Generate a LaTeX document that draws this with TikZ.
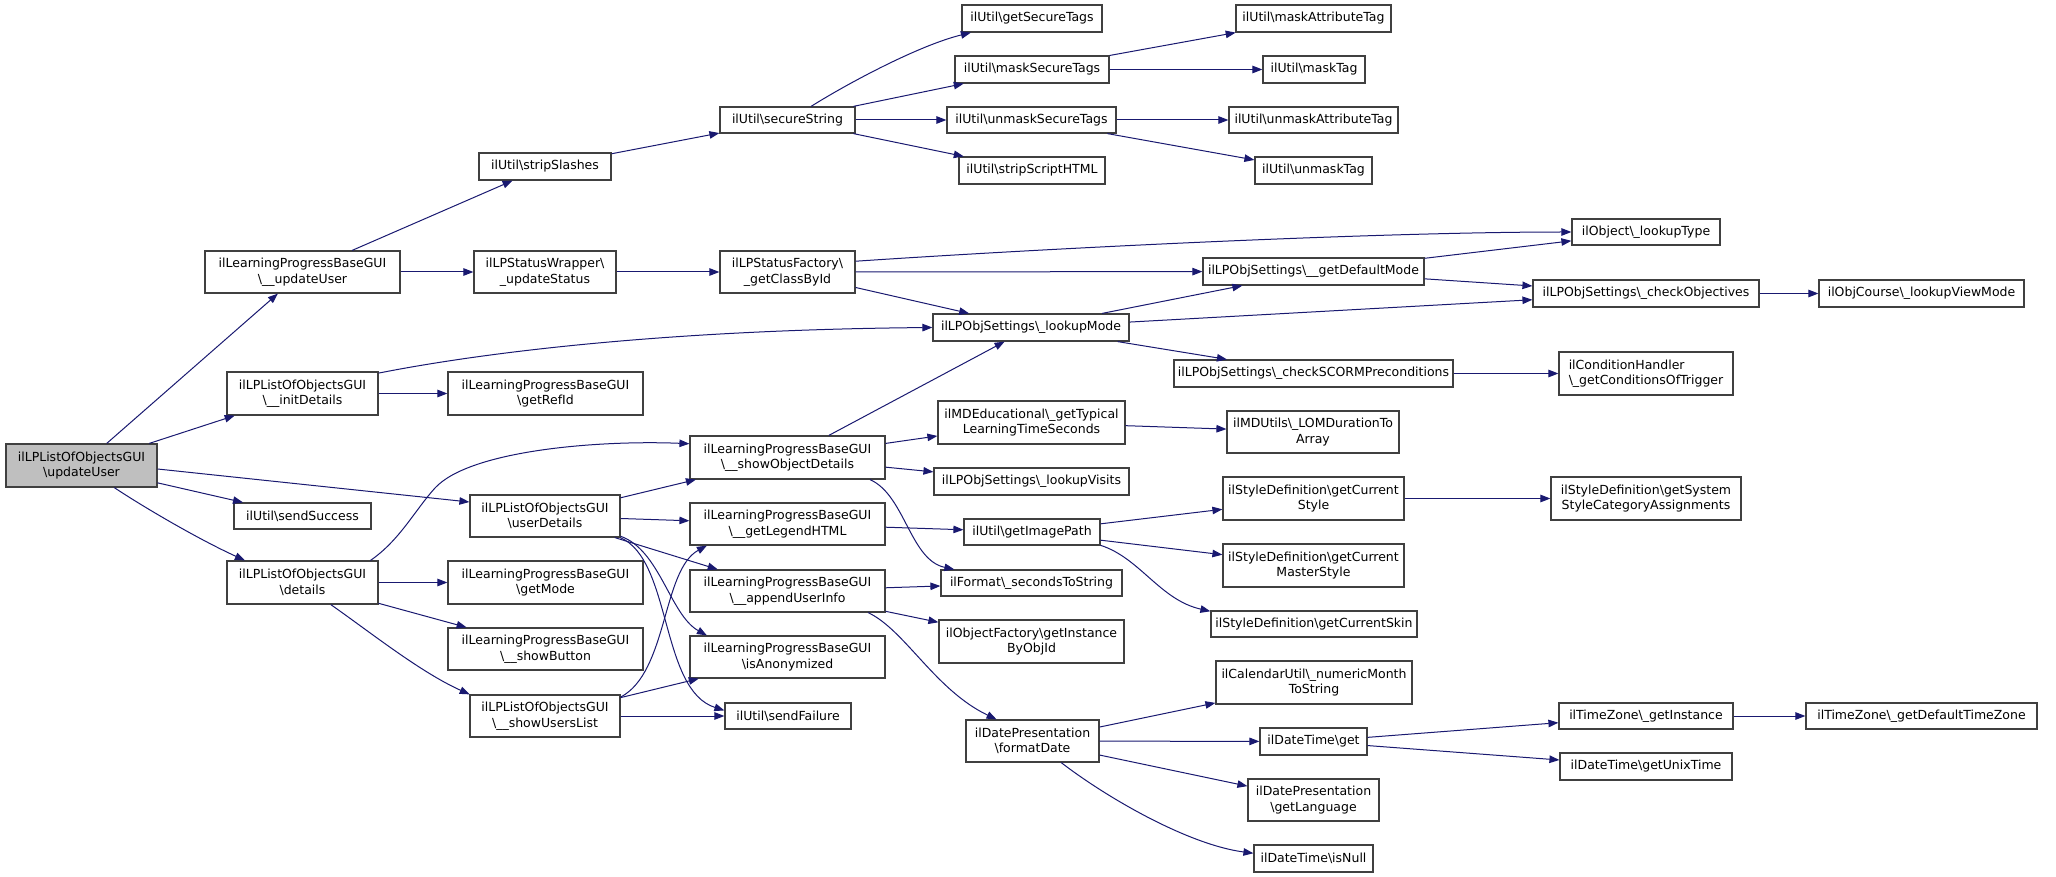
\documentclass[tikz,border=0pt]{standalone}
\usepackage{fontspec}
\setmainfont{DejaVu Sans}
\usetikzlibrary{arrows.meta}
\definecolor{edgec}{HTML}{191970}
\definecolor{boxc}{HTML}{404040}
\definecolor{rootc}{HTML}{BFBFBF}
\newcommand{\bsl}{\textbackslash}
\begin{document}
\begin{tikzpicture}[x=1pt,y=-1pt,
  box/.style={draw=boxc, line width=1.2pt, fill=white, inner sep=0pt, align=center,
    font=\fontsize{12.5}{15.5}\selectfont, text=black},
  e/.style={draw=edgec, line width=1pt, -{Triangle[length=10pt,width=7.5pt]}},
]
\useasboundingbox (0,0) rectangle (2056,877);

\node[box,minimum width=151pt,minimum height=43pt,fill=rootc] (root) at (81.5,465.5) {ilLPListOfObjectsGUI\\\bsl updateUser};
\node[box,minimum width=195pt,minimum height=42pt] (upd) at (302.5,272) {ilLearningProgressBaseGUI\\\bsl\_\_updateUser};
\node[box,minimum width=132pt,minimum height=27pt] (strip) at (545,166.5) {ilUtil\bsl stripSlashes};
\node[box,minimum width=142pt,minimum height=42pt] (status) at (545,272) {ilLPStatusWrapper\bsl\\\_updateStatus};
\node[box,minimum width=151pt,minimum height=43pt] (init) at (302.5,393.5) {ilLPListOfObjectsGUI\\\bsl\_\_initDetails};
\node[box,minimum width=195pt,minimum height=43pt] (refid) at (545.5,393.5) {ilLearningProgressBaseGUI\\\bsl getRefId};
\node[box,minimum width=137pt,minimum height=26pt] (success) at (302.5,516) {ilUtil\bsl sendSuccess};
\node[box,minimum width=151pt,minimum height=43pt] (details) at (302.5,582.5) {ilLPListOfObjectsGUI\\\bsl details};
\node[box,minimum width=150pt,minimum height=42pt] (userdet) at (545,516) {ilLPListOfObjectsGUI\\\bsl userDetails};
\node[box,minimum width=195pt,minimum height=43pt] (getmode) at (545.5,582.5) {ilLearningProgressBaseGUI\\\bsl getMode};
\node[box,minimum width=195pt,minimum height=42pt] (showbtn) at (545.5,649) {ilLearningProgressBaseGUI\\\bsl\_\_showButton};
\node[box,minimum width=150pt,minimum height=42pt] (showusers) at (545,716) {ilLPListOfObjectsGUI\\\bsl\_\_showUsersList};
\node[box,minimum width=135pt,minimum height=26pt] (secure) at (787.5,120) {ilUtil\bsl secureString};
\node[box,minimum width=135pt,minimum height=42pt] (factory) at (787.5,272) {ilLPStatusFactory\bsl\\\_getClassById};
\node[box,minimum width=140pt,minimum height=27pt] (gst) at (1032,18.5) {ilUtil\bsl getSecureTags};
\node[box,minimum width=154pt,minimum height=27pt] (mst) at (1032,69.5) {ilUtil\bsl maskSecureTags};
\node[box,minimum width=169pt,minimum height=26pt] (ust) at (1031.5,120) {ilUtil\bsl unmaskSecureTags};
\node[box,minimum width=146pt,minimum height=27pt] (ssh) at (1032,170.5) {ilUtil\bsl stripScriptHTML};
\node[box,minimum width=196pt,minimum height=27pt] (lmode) at (1031,327.5) {ilLPObjSettings\bsl\_lookupMode};
\node[box,minimum width=187pt,minimum height=43pt] (typical) at (1031.5,422.5) {ilMDEducational\bsl\_getTypical\\LearningTimeSeconds};
\node[box,minimum width=195pt,minimum height=43pt] (sod) at (787.5,457.5) {ilLearningProgressBaseGUI\\\bsl\_\_showObjectDetails};
\node[box,minimum width=195pt,minimum height=42pt] (legend) at (787.5,524) {ilLearningProgressBaseGUI\\\bsl\_\_getLegendHTML};
\node[box,minimum width=195pt,minimum height=42pt] (append) at (787.5,591) {ilLearningProgressBaseGUI\\\bsl\_\_appendUserInfo};
\node[box,minimum width=195pt,minimum height=42pt] (anon) at (787.5,657) {ilLearningProgressBaseGUI\\\bsl isAnonymized};
\node[box,minimum width=126pt,minimum height=26pt] (failure) at (788,716) {ilUtil\bsl sendFailure};
\node[box,minimum width=195pt,minimum height=27pt] (visits) at (1031.5,481.5) {ilLPObjSettings\bsl\_lookupVisits};
\node[box,minimum width=136pt,minimum height=26pt] (imgpath) at (1032,532) {ilUtil\bsl getImagePath};
\node[box,minimum width=181pt,minimum height=26pt] (seconds) at (1031.5,583) {ilFormat\bsl\_secondsToString};
\node[box,minimum width=185pt,minimum height=43pt] (objfac) at (1031.5,641.5) {ilObjectFactory\bsl getInstance\\ByObjId};
\node[box,minimum width=133pt,minimum height=42pt] (fdate) at (1032.5,741) {ilDatePresentation\\\bsl formatDate};
\node[box,minimum width=155pt,minimum height=27pt] (mat) at (1313.5,18.5) {ilUtil\bsl maskAttributeTag};
\node[box,minimum width=102pt,minimum height=27pt] (masktag) at (1314,69.5) {ilUtil\bsl maskTag};
\node[box,minimum width=169pt,minimum height=26pt] (uat) at (1313.5,120) {ilUtil\bsl unmaskAttributeTag};
\node[box,minimum width=117pt,minimum height=27pt] (unmasktag) at (1313.5,170.5) {ilUtil\bsl unmaskTag};
\node[box,minimum width=221pt,minimum height=27pt] (defmode) at (1313.5,271.5) {ilLPObjSettings\bsl\_\_getDefaultMode};
\node[box,minimum width=279pt,minimum height=27pt] (scorm) at (1313.5,373.5) {ilLPObjSettings\bsl\_checkSCORMPreconditions};
\node[box,minimum width=172pt,minimum height=42pt] (lom) at (1313,432) {ilMDUtils\bsl\_LOMDurationTo\\Array};
\node[box,minimum width=148pt,minimum height=26pt] (ltype) at (1646,232) {ilObject\bsl\_lookupType};
\node[box,minimum width=226pt,minimum height=27pt] (chkobj) at (1646,293.5) {ilLPObjSettings\bsl\_checkObjectives};
\node[box,minimum width=205pt,minimum height=27pt] (viewmode) at (1921.5,293.5) {ilObjCourse\bsl\_lookupViewMode};
\node[box,minimum width=174pt,minimum height=43pt,align=left] (cond) at (1646,373.5) {ilConditionHandler\\\bsl\_getConditionsOfTrigger};
\node[box,minimum width=181pt,minimum height=43pt] (curstyle) at (1313.5,498.5) {ilStyleDefinition\bsl getCurrent\\Style};
\node[box,minimum width=181pt,minimum height=43pt] (master) at (1313.5,565.5) {ilStyleDefinition\bsl getCurrent\\MasterStyle};
\node[box,minimum width=206pt,minimum height=26pt] (skin) at (1314,624) {ilStyleDefinition\bsl getCurrentSkin};
\node[box,minimum width=196pt,minimum height=43pt] (month) at (1314,682.5) {ilCalendarUtil\bsl\_numericMonth\\ToString};
\node[box,minimum width=107pt,minimum height=27pt] (dtget) at (1313.5,741.5) {ilDateTime\bsl get};
\node[box,minimum width=131pt,minimum height=42pt] (lang) at (1313.5,800) {ilDatePresentation\\\bsl getLanguage};
\node[box,minimum width=119pt,minimum height=27pt] (isnull) at (1313.5,858.5) {ilDateTime\bsl isNull};
\node[box,minimum width=190pt,minimum height=43pt] (sysstyle) at (1646,498.5) {ilStyleDefinition\bsl getSystem\\StyleCategoryAssignments};
\node[box,minimum width=174pt,minimum height=26pt] (tzinst) at (1646,716) {ilTimeZone\bsl\_getInstance};
\node[box,minimum width=231pt,minimum height=26pt] (tzdef) at (1921.5,716) {ilTimeZone\bsl\_getDefaultTimeZone};
\node[box,minimum width=172pt,minimum height=27pt] (unix) at (1646,766.5) {ilDateTime\bsl getUnixTime};

\draw[e] (root) -- (upd);
\draw[e] (root) -- (init);
\draw[e] ([yshift=-3.5pt]root.east) -- ([yshift=14pt]userdet.west);
\draw[e] (root) -- (success);
\draw[e] (root.-34) .. controls (145,508) and (200,540) .. (details.159);
\draw[e] (upd) -- (strip);
\draw[e] (upd) -- (status);
\draw[e] (strip) -- (secure);
\draw[e] (secure.30) .. controls (850,82) and (920,45) .. (gst.-167);
\draw[e] (secure) -- (mst);
\draw[e] (secure) -- (ust);
\draw[e] (secure) -- (ssh);
\draw[e] (mst) -- (mat);
\draw[e] (mst) -- (masktag);
\draw[e] (ust) -- (uat);
\draw[e] (ust) -- (unmasktag);
\draw[e] (status) -- (factory);
\draw[e] (factory.9) .. controls (1100,245) and (1400,232) .. (ltype.west);
\draw[e] (factory) -- (defmode);
\draw[e] (factory) -- (lmode);
\draw[e] (init.15) .. controls (470,355) and (650,330) .. (lmode.west);
\draw[e] (init) -- (refid);
\draw[e] (lmode) -- (defmode);
\draw[e] (lmode) -- (chkobj);
\draw[e] (lmode) -- (scorm);
\draw[e] (defmode) -- (ltype);
\draw[e] (defmode) -- (chkobj);
\draw[e] (chkobj) -- (viewmode);
\draw[e] (scorm) -- (cond);
\draw[e] (details.18) .. controls (400,540) and (415,510) .. (435,488) .. controls (470,450) and (600,440) .. (sod.172);
\draw[e] (details) -- (getmode);
\draw[e] (details) -- (showbtn);
\draw[e] (details.-38) .. controls (370,632) and (420,672) .. (showusers.164);
\draw[e] (userdet) -- (sod);
\draw[e] (userdet) -- (legend);
\draw[e] (userdet) -- (append);
\draw[e] (userdet.-15) .. controls (660,550) and (670,615) .. (anon.165);
\draw[e] (userdet.-16) .. controls (672,560) and (660,690) .. (failure.175);
\draw[e] (showusers.14) .. controls (668,672) and (662,570) .. (legend.-165);
\draw[e] (showusers) -- (anon);
\draw[e] (showusers) -- (failure);
\draw[e] (sod) -- (lmode);
\draw[e] (sod) -- (typical);
\draw[e] (sod) -- (visits);
\draw[e] (sod.-15) .. controls (905,495) and (910,560) .. (seconds.170);
\draw[e] (typical) -- (lom);
\draw[e] (legend) -- (imgpath);
\draw[e] (append) -- (seconds);
\draw[e] (append) -- (objfac);
\draw[e] (append.-15) .. controls (905,630) and (935,690) .. (fdate.149);
\draw[e] (imgpath) -- (curstyle);
\draw[e] (imgpath) -- (master);
\draw[e] (imgpath.-11) .. controls (1140,558) and (1160,600) .. (skin.173);
\draw[e] (curstyle) -- (sysstyle);
\draw[e] (fdate) -- (month);
\draw[e] (fdate) -- (dtget);
\draw[e] (fdate) -- (lang);
\draw[e] (fdate.-37) .. controls (1110,800) and (1190,845) .. (isnull.175);
\draw[e] (dtget) -- (tzinst);
\draw[e] (dtget) -- (unix);
\draw[e] (tzinst) -- (tzdef);
\end{tikzpicture}
\end{document}
